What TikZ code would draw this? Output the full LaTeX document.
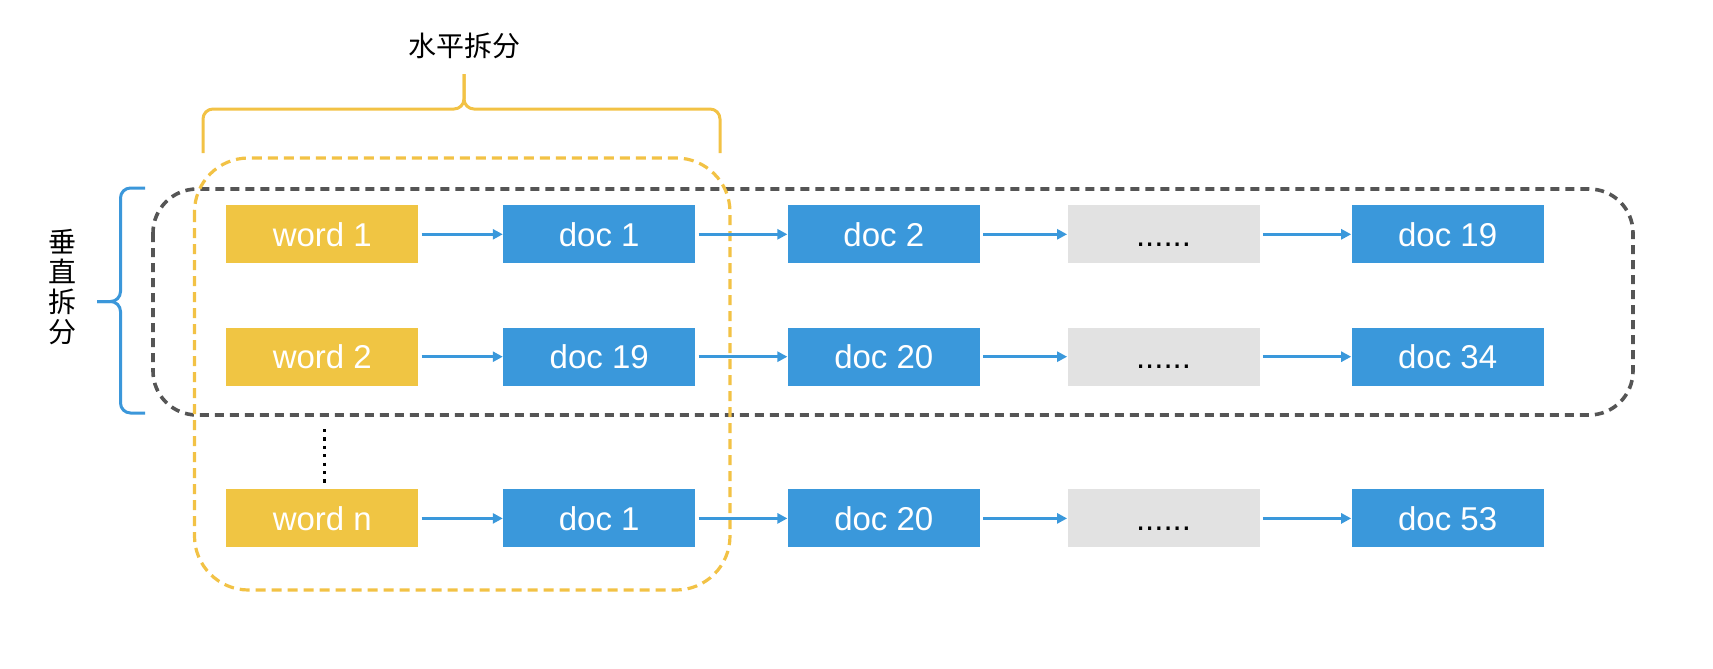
\documentclass[tikz,border=0pt]{standalone}
\usepackage{fontspec}
\setmainfont{Liberation Sans}
\newfontfamily\cjk{Noto Sans CJK SC}
\usetikzlibrary{arrows.meta}
\definecolor{wordY}{HTML}{F0C543}
\definecolor{docB}{HTML}{3A98DB}
\definecolor{moreG}{HTML}{E2E2E2}
\definecolor{braceY}{HTML}{F2C245}
\definecolor{braceB}{HTML}{3B97DA}
\definecolor{dashG}{HTML}{555555}
\tikzset{
  box/.style={minimum width=96pt, minimum height=29pt, inner sep=0pt, text=white,
    text height=11.8pt, text depth=0pt, font=\fontsize{16.5}{18}\selectfont},
  wordbox/.style={box, fill=wordY},
  docbox/.style={box, fill=docB},
  morebox/.style={box, fill=moreG, text=black},
  link/.style={draw=docB, line width=1.3pt, -{Triangle[length=5pt,width=5pt]}, shorten <=1.5pt},
  ybrace/.style={draw=braceY, line width=1.5pt, rounded corners=5pt},
  bbrace/.style={draw=braceB, line width=1.5pt, rounded corners=5pt},
  cjklabel/.style={font=\cjk\fontsize{14}{15}\selectfont, text=black, inner sep=0pt, align=center},
}
\begin{document}
\begin{tikzpicture}[x=0.5pt, y=-0.5pt]
\useasboundingbox (0,0) rectangle (1713,669);
% group frames
\draw[dashG, line width=1.8pt, dash pattern=on 4.5pt off 3pt, rounded corners=22pt]
  (153,189) rectangle (1633,415);
\draw[braceY, line width=1.6pt, dash pattern=on 5pt off 3pt, rounded corners=27pt]
  (194.5,158) rectangle (730,590);
% rows
\node[wordbox] (w1) at (322.3,234.3) {word 1};
\node[docbox]  (a1) at (599.2,234.3) {doc 1};
\node[docbox]  (b1) at (883.8,234.3) {doc 2};
\node[morebox] (c1) at (1163.5,234.3) {......};
\node[docbox]  (e1) at (1447.6,234.3) {doc 19};

\node[wordbox] (w2) at (322.3,356.7) {word 2};
\node[docbox]  (a2) at (599.2,356.7) {doc 19};
\node[docbox]  (b2) at (883.8,356.7) {doc 20};
\node[morebox] (c2) at (1163.5,356.7) {......};
\node[docbox]  (e2) at (1447.6,356.7) {doc 34};

\node[wordbox] (w3) at (322.3,518.4) {word n};
\node[docbox]  (a3) at (599.2,518.4) {doc 1};
\node[docbox]  (b3) at (883.8,518.4) {doc 20};
\node[morebox] (c3) at (1163.5,518.4) {......};
\node[docbox]  (e3) at (1447.6,518.4) {doc 53};

\foreach \r in {1,2,3} {
  \draw[link] (w\r) -- (a\r);
  \draw[link] (a\r) -- (b\r);
  \draw[link] (b\r) -- (c\r);
  \draw[link] (c\r) -- (e\r);
}
% vertical dots between word 2 and word n
\coordinate (dtop) at (324.5,429);
\coordinate (dbot) at (324.5,486);
\draw[black, line width=1.6pt, dash pattern=on 1.6pt off 2.6pt] (dtop) -- (dbot);
% horizontal brace
\coordinate (htip) at (464,74);
\draw[ybrace] (203,153) -- (203,109) -- (464,109) -- (htip);
\draw[ybrace] (720,153) -- (720,109) -- (464,109) -- (htip);
\node[cjklabel] (htitle) at (464,46) {水平拆分};
% vertical brace
\coordinate (vtip) at (97,301.5);
\draw[bbrace] (145,188) -- (120.5,188) -- (120.5,301.5) -- (vtip);
\draw[bbrace] (145,413) -- (120.5,413) -- (120.5,301.5) -- (vtip);
\node[cjklabel] (vtitle) at (62,287) {垂\\直\\拆\\分};
\end{tikzpicture}
\end{document}
